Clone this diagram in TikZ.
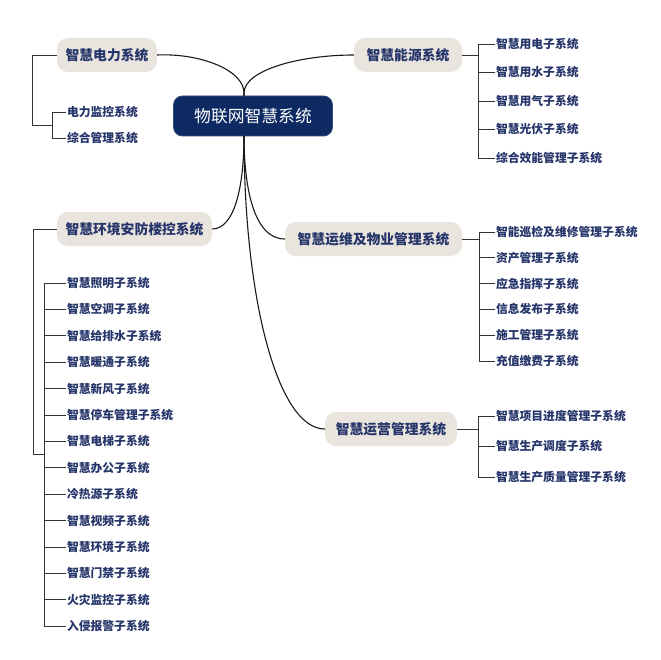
\documentclass[tikz,border=0pt]{standalone}
\usepackage{fontspec}
\setmainfont{Noto Sans CJK SC}
\usetikzlibrary{calc}
\definecolor{navy}{HTML}{0E2A62}
\definecolor{beige}{HTML}{E9E4DE}
\definecolor{txt}{HTML}{25356A}
\begin{document}
\begin{tikzpicture}[x=1pt,y=-1pt,
 root/.style={fill=navy,draw=navy!85!white,line width=0.8pt,rounded corners=9pt,minimum width=159pt,minimum height=40pt,text=white,font=\fontsize{16.8pt}{20pt}\selectfont,inner sep=0pt},
 topic/.style={fill=beige,rounded corners=11pt,minimum height=34pt,text=txt,font=\fontsize{13.8pt}{16pt}\selectfont\bfseries,inner sep=0pt},
 leaf/.style={anchor=west,text=txt,font=\fontsize{11.8pt}{13pt}\selectfont\bfseries,inner sep=0.8pt},
 curve/.style={draw=black!90,line width=1.1pt},
 brace/.style={draw=black!80,line width=0.9pt}]
\useasboundingbox[fill=white] (0,0) rectangle (660,660);

% root
\node[root] (c) at (253,116) {物联网智慧系统};
\coordinate (ct) at (244,96);
\coordinate (cb) at (244,136);

% topics
\node[topic,minimum width=100pt] (p1) at (107,55) {智慧电力系统};
\node[topic,minimum width=108pt] (p2) at (408,55) {智慧能源系统};
\node[topic,minimum width=155pt] (p3) at (134.5,229) {智慧环境安防楼控系统};
\node[topic,minimum width=177pt] (p4) at (373.5,239) {智慧运维及物业管理系统};
\node[topic,minimum width=132pt] (p5) at (391,429) {智慧运营管理系统};

% curves
\draw[curve] (ct) -- ++(0,-3) .. controls (244,70) and (200,53) .. (p1.east);
\draw[curve] (ct) -- ++(0,-3) .. controls (244,70) and (300,55) .. (p2.west);
\draw[curve] (cb) .. controls (244,185) and (235,229) .. (p3.east);
\draw[curve] (cb) .. controls (244,185) and (253,239) .. (p4.west);
\draw[curve] (cb) .. controls (244,300) and (278,429) .. (p5.west);

% 电力 children
\node[leaf] (d1) at (66,112) {电力监控系统};
\node[leaf] (d2) at (66,138) {综合管理系统};
\coordinate (k1) at (32,0);
\coordinate (m1) at (52,0);
\coordinate (mid1) at ($(d1.west -| m1)!0.5!(d2.west -| m1)$);
\draw[brace] (p1.west) -- (p1.west -| k1) -- (k1 |- mid1) -- (mid1);
\draw[brace] (d1.west) -- (d1.west -| m1) -- (d2.west -| m1) -- (d2.west);

% 能源 children
\foreach \t [count=\i] in {智慧用电子系统,智慧用水子系统,智慧用气子系统,智慧光伏子系统,综合效能管理子系统}
  \node[leaf] (e\i) at (495,{44+(\i-1)*28.5}) {\t};
\coordinate (j2) at (478,55);
\draw[brace] (p2.east) -- (j2);
\draw[brace] (e1.west) -- (e1.west -| j2) -- (e5.west -| j2) -- (e5.west);
\foreach \i in {2,3,4} \draw[brace] (e\i.west -| j2) -- (e\i.west);

% 环境安防 children
\foreach \t [count=\i] in {智慧照明子系统,智慧空调子系统,智慧给排水子系统,智慧暖通子系统,智慧新风子系统,智慧停车管理子系统,智慧电梯子系统,智慧办公子系统,冷热源子系统,智慧视频子系统,智慧环境子系统,智慧门禁子系统,火灾监控子系统,入侵报警子系统}
  \node[leaf] (h\i) at (66,{283+(\i-1)*26.4}) {\t};
\coordinate (k3) at (33,0);
\coordinate (m3) at (44,0);
\coordinate (mid3) at ($(h1.west -| m3)!0.5!(h14.west -| m3)$);
\draw[brace] (p3.west) -- (p3.west -| k3) -- (k3 |- mid3) -- (mid3);
\draw[brace] (h1.west) -- (h1.west -| m3) -- (h14.west -| m3) -- (h14.west);
\foreach \i in {2,...,13} \draw[brace] (h\i.west -| m3) -- (h\i.west);

% 运维 children
\foreach \t [count=\i] in {智能巡检及维修管理子系统,资产管理子系统,应急指挥子系统,信息发布子系统,施工管理子系统,充值缴费子系统}
  \node[leaf] (w\i) at (495,{232+(\i-1)*25.8}) {\t};
\coordinate (j4) at (479,239);
\draw[brace] (p4.east) -- (j4);
\draw[brace] (w1.west) -- (w1.west -| j4) -- (w6.west -| j4) -- (w6.west);
\foreach \i in {2,...,5} \draw[brace] (w\i.west -| j4) -- (w\i.west);

% 运营 children
\foreach \t [count=\i] in {智慧项目进度管理子系统,智慧生产调度子系统,智慧生产质量管理子系统}
  \node[leaf] (y\i) at (495,{416+(\i-1)*30.5}) {\t};
\coordinate (j5) at (478,429);
\draw[brace] (p5.east) -- (j5);
\draw[brace] (y1.west) -- (y1.west -| j5) -- (y3.west -| j5) -- (y3.west);
\draw[brace] (y2.west -| j5) -- (y2.west);
\end{tikzpicture}
\end{document}
